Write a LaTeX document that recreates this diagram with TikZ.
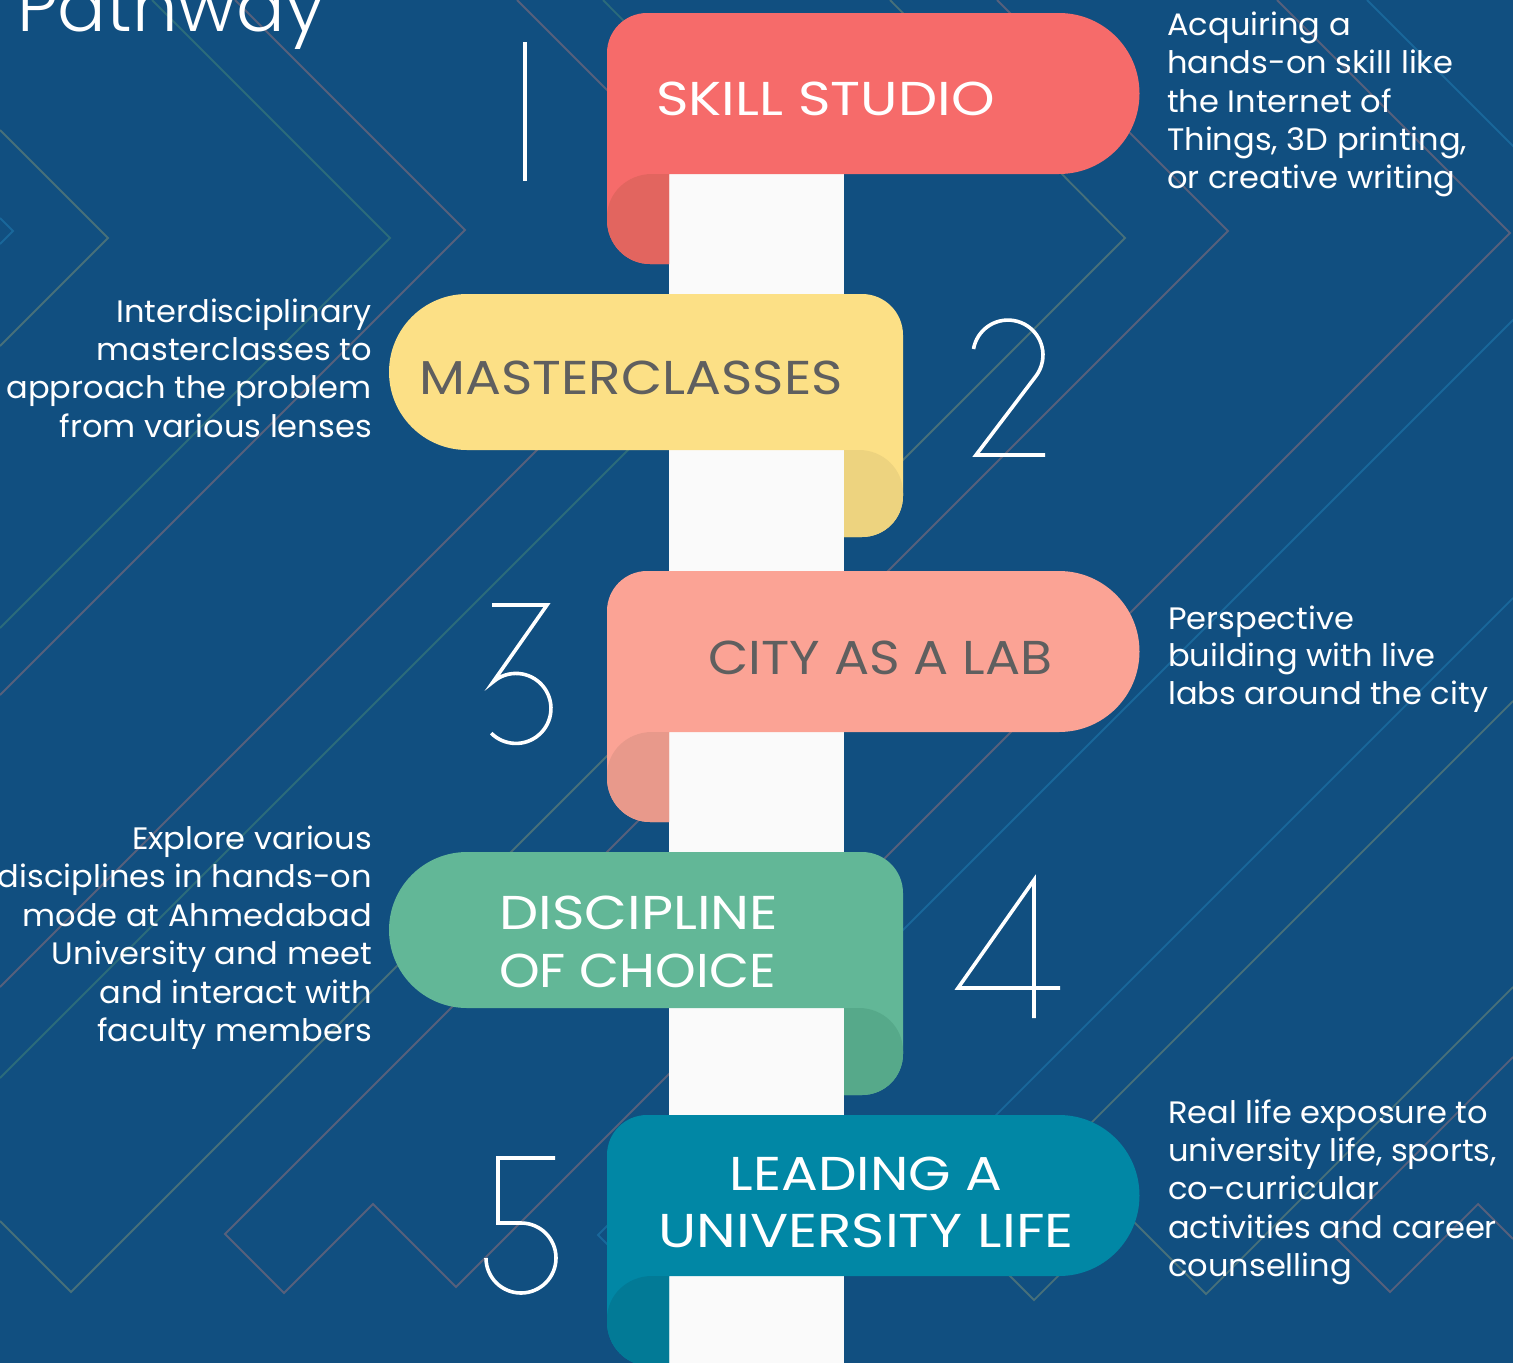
\documentclass[tikz,border=0pt]{standalone}
\usepackage{fontspec}
\setmainfont{Poppins}
\newfontfamily\ttlf{Poppins}[FakeStretch=1.15]
\newfontfamily\descf{Poppins}[FakeStretch=1.035]
\IfFontExistsTF{Poppins Light}{\newfontfamily\lightf{Poppins Light}[FakeStretch=1.03]}{\newfontfamily\lightf{Poppins}[FakeStretch=1.03]}
\definecolor{bgc}{HTML}{114F80}
\definecolor{cteal}{HTML}{2B6B7B}
\definecolor{ctg}{HTML}{47707A}
\definecolor{cgrey}{HTML}{56607C}
\definecolor{cblue}{HTML}{19679A}
\definecolor{colw}{HTML}{FAFAFA}
\definecolor{txtgrey}{HTML}{5F5F5F}
\definecolor{ra}{HTML}{F66B6A}\definecolor{rad}{HTML}{E2655F}
\definecolor{ya}{HTML}{FCE086}\definecolor{yad}{HTML}{EDD37F}
\definecolor{sa}{HTML}{FBA395}\definecolor{sad}{HTML}{E8998B}
\definecolor{ga}{HTML}{62B797}\definecolor{gad}{HTML}{56A98A}
\definecolor{ta}{HTML}{0187A5}\definecolor{tad}{HTML}{027A96}
\newcommand{\ribR}[3]{% top y, main colour, dark colour
  \fill[#2] (647,#1) -- (1059,#1) arc[start angle=-90,end angle=90,radius=80.5]
    -- (669,#1+161) -- (669,#1+251) -- (650,#1+251)
    arc[start angle=90,end angle=180,x radius=43,y radius=44]
    -- (607,#1+40) arc[start angle=180,end angle=270,radius=40] -- cycle;
  \fill[#3] (669,#1+161) -- (669,#1+251) -- (650,#1+251)
    arc[start angle=90,end angle=180,x radius=43,y radius=44]
    -- (607,#1+204) arc[start angle=180,end angle=270,x radius=45,y radius=43] -- cycle;
}
\newcommand{\ribL}[3]{%
  \fill[#2] (467,#1) -- (862,#1) arc[start angle=-90,end angle=0,radius=41]
    -- (903,#1+202) arc[start angle=0,end angle=90,radius=41]
    -- (844,#1+243) -- (844,#1+156) -- (467,#1+156)
    arc[start angle=90,end angle=270,radius=78] -- cycle;
  \fill[#3] (844,#1+156) -- (859,#1+156) arc[start angle=-90,end angle=0,x radius=44,y radius=43]
    -- (903,#1+202) arc[start angle=0,end angle=90,radius=41]
    -- (844,#1+243) -- cycle;
}
\begin{document}
\begin{tikzpicture}[x=1pt,y=-1pt,
  desc/.style={font=\descf\fontsize{31}{38}\selectfont, text=white, inner sep=0pt},
  ttl/.style={font=\ttlf\fontsize{47.5}{56}\selectfont, inner sep=0pt},
  bgline/.style={line width=1.8pt},
  num/.style={draw=white, line width=3.6pt, line join=miter}]
\useasboundingbox (0,0) rectangle (1513,1363);
\fill[bgc] (0,0) rectangle (1513,1363);
\begin{scope}
\clip (0,0) rectangle (1513,1363);
% background chevrons
\draw[bgline, cblue] (0,218) -- (13,231) -- (0,244);
\draw[bgline, ctg] (0,130) -- (108,238) -- (0,346);
\draw[bgline, cteal] (152,0) -- (390,238) -- (0,628);
\draw[bgline, cgrey] (235,0) -- (465,230) -- (0,695);
\draw[bgline, cgrey] (517,0) -- (752,235) -- (0,987);
\draw[bgline, cteal] (603,0) -- (840,238) -- (0,1078);
\draw[bgline, ctg] (890,0) -- (1125,238) -- (71,1292) -- (0,1221);
\draw[bgline, cgrey] (997,0) -- (1228,231) -- (225,1234) -- (284,1293) -- (373,1204) -- (456,1287) -- (1510,233) -- (1277,0);
\draw[bgline, cblue] (1367,0) -- (1600,233) -- (598,1235) -- (726,1363);
\draw[bgline, cblue] (1513,598) -- (750,1361);
\draw[bgline, ctg] (1513,701) -- (974,1240) -- (1034,1300) -- (1123,1211) -- (1206,1294) -- (1513,987);
\draw[bgline, cgrey] (1513,1057) -- (1334,1236) -- (1390,1292) -- (1478,1204) -- (1513,1239);
% column
\fill[colw] (669,174) rectangle (844,1363);
% ribbons
\ribR{13}{ra}{rad}
\ribL{294}{ya}{yad}
\ribR{571}{sa}{sad}
\ribL{852}{ga}{gad}
\ribR{1115}{ta}{tad}
% numbers
\draw[num] (525,42) -- (525,181);
\draw[num] (973.5,349) arc[start angle=190,end angle=400,radius=35] -- (976,455) -- (1045,455);
\draw[num] (492,605) -- (547,605) -- (493,682) arc[start angle=-131,end angle=135,radius=35];
\draw[num] (1034,1018) -- (1034,880) -- (958,988) -- (1060,988);
\draw[num] (555,1158) -- (498,1158) -- (498,1223) -- (521,1223) arc[start angle=-90,end angle=180,radius=35];
% title
\node[anchor=base west, inner sep=0pt, font=\lightf\fontsize{70}{80}\selectfont, text=white] (title) at (17,31) {Pathway};
% ribbon labels
\node[ttl, text=white, anchor=base west] (t1) at (656,115) {\scalebox{1.015}[1]{SKILL STUDIO}};
\node[ttl, text=txtgrey, anchor=base west] (t2) at (419,394) {\scalebox{0.977}[1]{MASTERCLASSES}};
\node[ttl, text=txtgrey, anchor=base west] (t3) at (708,674) {\scalebox{0.956}[1]{CITY AS A LAB}};
\node[ttl, text=white, anchor=base west] (t4a) at (499,929) {\scalebox{1.015}[1]{DISCIPLINE}};
\node[ttl, text=white, anchor=base west] (t4b) at (499,987) {\scalebox{0.948}[1]{OF CHOICE}};
\node[ttl, text=white, anchor=base] (t5a) at (866,1190) {LEADING A};
\node[ttl, text=white, anchor=base] (t5b) at (866,1247) {\scalebox{1.035}[1]{UNIVERSITY LIFE}};
% descriptions
\node[desc, anchor=base west] (d1a) at (1167,35) {Acquiring a};
\node[desc, anchor=base west] (d1b) at (1167,73) {hands-on skill like};
\node[desc, anchor=base west] (d1c) at (1167,112) {the Internet of};
\node[desc, anchor=base west] (d1d) at (1167,150) {Things, 3D printing,};
\node[desc, anchor=base west] (d1e) at (1167,188) {or creative writing};
\node[desc, anchor=base east] (d2a) at (372,322) {Interdisciplinary};
\node[desc, anchor=base east] (d2b) at (372,360) {masterclasses to};
\node[desc, anchor=base east] (d2c) at (372,398) {approach the problem};
\node[desc, anchor=base east] (d2d) at (372,437) {from various lenses};
\node[desc, anchor=base west] (d3a) at (1168,629) {Perspective};
\node[desc, anchor=base west] (d3b) at (1168,666) {building with live};
\node[desc, anchor=base west] (d3c) at (1168,704) {labs around the city};
\node[desc, anchor=base east] (d4a) at (372,849) {Explore various};
\node[desc, anchor=base east] (d4b) at (372,887) {disciplines in hands-on};
\node[desc, anchor=base east] (d4c) at (372,926) {mode at Ahmedabad};
\node[desc, anchor=base east] (d4d) at (372,964) {University and meet};
\node[desc, anchor=base east] (d4e) at (372,1003) {and interact with};
\node[desc, anchor=base east] (d4f) at (372,1041) {faculty members};
\node[desc, anchor=base west] (d5a) at (1168,1123) {Real life exposure to};
\node[desc, anchor=base west] (d5b) at (1168,1161) {university life, sports,};
\node[desc, anchor=base west] (d5c) at (1168,1199) {co-curricular};
\node[desc, anchor=base west] (d5d) at (1168,1238) {activities and career};
\node[desc, anchor=base west] (d5e) at (1168,1276) {counselling};
\end{scope}
\end{tikzpicture}
\end{document}
